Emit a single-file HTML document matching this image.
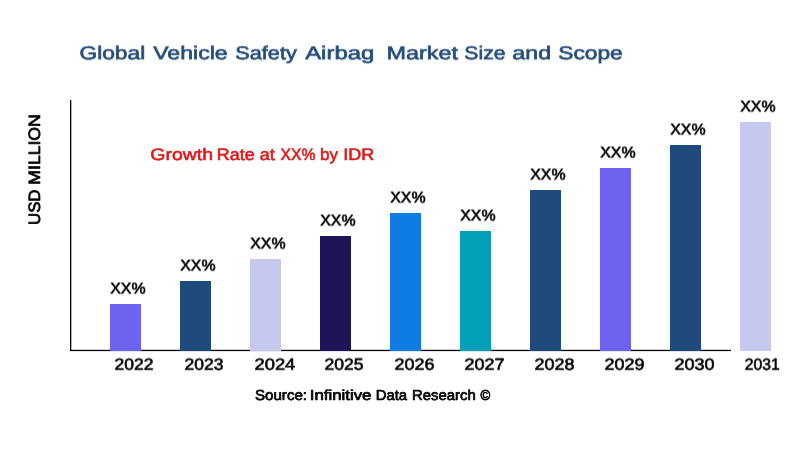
<!DOCTYPE html>
<html lang="en"><head><meta charset="utf-8"><title>Global Vehicle Safety Airbag Market Size and Scope</title>
<style>
html,body{margin:0;padding:0;background:#fff;}
body{width:800px;height:450px;overflow:hidden;font-family:"Liberation Sans", sans-serif;}
svg{display:block;font-family:"Liberation Sans", sans-serif;text-rendering:geometricPrecision;}
</style></head><body>
<svg width="800" height="450" viewBox="0 0 800 450">
<rect width="800" height="450" fill="#ffffff"/>
<rect x="70" y="100" width="1.3" height="251" fill="#000"/>
<rect x="70" y="349.8" width="661" height="1.3" fill="#000"/>
<rect x="110" y="304" width="31" height="47" fill="#6c63f0"/>
<rect x="180" y="281" width="31" height="70" fill="#1f4b7c"/>
<rect x="250" y="259" width="31" height="92" fill="#c7c8ee"/>
<rect x="320" y="236" width="31" height="115" fill="#1e1559"/>
<rect x="390" y="213" width="31" height="138" fill="#0f7be5"/>
<rect x="460" y="231" width="31" height="120" fill="#04a0b8"/>
<rect x="530" y="190" width="31" height="161" fill="#1f4b7c"/>
<rect x="600" y="168" width="31" height="183" fill="#6c63f0"/>
<rect x="670" y="145" width="31" height="206" fill="#1f4b7c"/>
<rect x="740" y="122" width="31" height="229" fill="#c7c8ee"/>
<defs><filter id="d25" x="0" y="0" width="800" height="450" filterUnits="userSpaceOnUse"><feOffset in="SourceGraphic" dx="0" dy="1" result="o"/><feComposite in="SourceGraphic" in2="o" operator="arithmetic" k1="0" k2="0.75" k3="0.25" k4="0"/></filter><filter id="d50" x="0" y="0" width="800" height="450" filterUnits="userSpaceOnUse"><feOffset in="SourceGraphic" dx="0" dy="1" result="o"/><feComposite in="SourceGraphic" in2="o" operator="arithmetic" k1="0" k2="0.5" k3="0.5" k4="0"/></filter><filter id="d75" x="0" y="0" width="800" height="450" filterUnits="userSpaceOnUse"><feOffset in="SourceGraphic" dx="0" dy="1" result="o"/><feComposite in="SourceGraphic" in2="o" operator="arithmetic" k1="0" k2="0.25" k3="0.75" k4="0"/></filter></defs>
<g filter="url(#d25)"><text y="59" font-size="18.6" fill="#264d7a" stroke="#264d7a" stroke-width="0.65" stroke-linejoin="round"><tspan x="79.50" textLength="65.70" lengthAdjust="spacingAndGlyphs">Global</tspan> <tspan x="153.17" textLength="74.55" lengthAdjust="spacingAndGlyphs">Vehicle</tspan> <tspan x="235.30" textLength="61.48" lengthAdjust="spacingAndGlyphs">Safety</tspan> <tspan x="305.16" textLength="69.12" lengthAdjust="spacingAndGlyphs">Airbag</tspan> <tspan x="386.44" textLength="71.49" lengthAdjust="spacingAndGlyphs">Market</tspan> <tspan x="464.33" textLength="41.26" lengthAdjust="spacingAndGlyphs">Size</tspan> <tspan x="512.39" textLength="38.73" lengthAdjust="spacingAndGlyphs">and</tspan> <tspan x="558.26" textLength="64.47" lengthAdjust="spacingAndGlyphs">Scope</tspan></text></g>
<g filter="url(#d50)"><text y="293" font-size="15.6" fill="#000" stroke="#000" stroke-width="0.6" stroke-linejoin="round"><tspan x="110.22" textLength="35.34" lengthAdjust="spacingAndGlyphs">XX%</tspan></text>
<text y="270" font-size="15.6" fill="#000" stroke="#000" stroke-width="0.6" stroke-linejoin="round"><tspan x="180.22" textLength="35.34" lengthAdjust="spacingAndGlyphs">XX%</tspan></text>
<text y="248" font-size="15.6" fill="#000" stroke="#000" stroke-width="0.6" stroke-linejoin="round"><tspan x="250.22" textLength="35.34" lengthAdjust="spacingAndGlyphs">XX%</tspan></text>
<text y="225" font-size="15.6" fill="#000" stroke="#000" stroke-width="0.6" stroke-linejoin="round"><tspan x="320.22" textLength="35.34" lengthAdjust="spacingAndGlyphs">XX%</tspan></text>
<text y="202" font-size="15.6" fill="#000" stroke="#000" stroke-width="0.6" stroke-linejoin="round"><tspan x="390.22" textLength="35.34" lengthAdjust="spacingAndGlyphs">XX%</tspan></text>
<text y="220" font-size="15.6" fill="#000" stroke="#000" stroke-width="0.6" stroke-linejoin="round"><tspan x="460.22" textLength="35.34" lengthAdjust="spacingAndGlyphs">XX%</tspan></text>
<text y="179" font-size="15.6" fill="#000" stroke="#000" stroke-width="0.6" stroke-linejoin="round"><tspan x="530.22" textLength="35.34" lengthAdjust="spacingAndGlyphs">XX%</tspan></text>
<text y="157" font-size="15.6" fill="#000" stroke="#000" stroke-width="0.6" stroke-linejoin="round"><tspan x="600.22" textLength="35.34" lengthAdjust="spacingAndGlyphs">XX%</tspan></text>
<text y="134" font-size="15.6" fill="#000" stroke="#000" stroke-width="0.6" stroke-linejoin="round"><tspan x="670.22" textLength="35.34" lengthAdjust="spacingAndGlyphs">XX%</tspan></text>
<text y="111" font-size="15.6" fill="#000" stroke="#000" stroke-width="0.6" stroke-linejoin="round"><tspan x="740.22" textLength="35.34" lengthAdjust="spacingAndGlyphs">XX%</tspan></text></g>
<g filter="url(#d75)"><text y="369" font-size="16.2" fill="#000" stroke="#000" stroke-width="0.6" stroke-linejoin="round"><tspan x="114.55" textLength="38.98" lengthAdjust="spacingAndGlyphs">2022</tspan></text>
<text y="369" font-size="16.2" fill="#000" stroke="#000" stroke-width="0.6" stroke-linejoin="round"><tspan x="184.56" textLength="38.87" lengthAdjust="spacingAndGlyphs">2023</tspan></text>
<text y="369" font-size="16.2" fill="#000" stroke="#000" stroke-width="0.6" stroke-linejoin="round"><tspan x="254.51" textLength="40.77" lengthAdjust="spacingAndGlyphs">2024</tspan></text>
<text y="369" font-size="16.2" fill="#000" stroke="#000" stroke-width="0.6" stroke-linejoin="round"><tspan x="324.55" textLength="39.04" lengthAdjust="spacingAndGlyphs">2025</tspan></text>
<text y="369" font-size="16.2" fill="#000" stroke="#000" stroke-width="0.6" stroke-linejoin="round"><tspan x="394.53" textLength="39.92" lengthAdjust="spacingAndGlyphs">2026</tspan></text>
<text y="369" font-size="16.2" fill="#000" stroke="#000" stroke-width="0.6" stroke-linejoin="round"><tspan x="464.53" textLength="39.92" lengthAdjust="spacingAndGlyphs">2027</tspan></text>
<text y="369" font-size="16.2" fill="#000" stroke="#000" stroke-width="0.6" stroke-linejoin="round"><tspan x="534.53" textLength="39.92" lengthAdjust="spacingAndGlyphs">2028</tspan></text>
<text y="369" font-size="16.2" fill="#000" stroke="#000" stroke-width="0.6" stroke-linejoin="round"><tspan x="604.53" textLength="39.92" lengthAdjust="spacingAndGlyphs">2029</tspan></text>
<text y="369" font-size="16.2" fill="#000" stroke="#000" stroke-width="0.6" stroke-linejoin="round"><tspan x="674.53" textLength="40.09" lengthAdjust="spacingAndGlyphs">2030</tspan></text>
<text y="369" font-size="16.2" fill="#000" stroke="#000" stroke-width="0.6" stroke-linejoin="round"><tspan x="744.65" textLength="34.99" lengthAdjust="spacingAndGlyphs">2031</tspan></text></g>
<text y="160" font-size="16.6" fill="#e21515" stroke="#e21515" stroke-width="0.55" stroke-linejoin="round"><tspan x="150.25" textLength="62.78" lengthAdjust="spacingAndGlyphs">Growth</tspan> <tspan x="216.79" textLength="37.81" lengthAdjust="spacingAndGlyphs">Rate</tspan> <tspan x="259.76" textLength="15.07" lengthAdjust="spacingAndGlyphs">at</tspan> <tspan x="280.52" textLength="34.81" lengthAdjust="spacingAndGlyphs">XX%</tspan> <tspan x="320.12" textLength="18.04" lengthAdjust="spacingAndGlyphs">by</tspan> <tspan x="343.35" textLength="30.97" lengthAdjust="spacingAndGlyphs">IDR</tspan></text>
<text y="400" font-size="14.5" fill="#000" stroke="#000" stroke-width="0.7" stroke-linejoin="round"><tspan x="254.97" textLength="52.10" lengthAdjust="spacingAndGlyphs">Source:</tspan> <tspan x="309.76" textLength="61.71" lengthAdjust="spacingAndGlyphs">Infinitive</tspan> <tspan x="375.67" textLength="31.40" lengthAdjust="spacingAndGlyphs">Data</tspan> <tspan x="412.07" textLength="63.64" lengthAdjust="spacingAndGlyphs">Research</tspan> <tspan x="480.52" textLength="9.70" lengthAdjust="spacingAndGlyphs">©</tspan></text>
<g transform="translate(40,224.1) rotate(-90)"><text y="0" font-size="16.4" fill="#000" stroke="#000" stroke-width="0.7" stroke-linejoin="round"><tspan x="-0.93" textLength="35.54" lengthAdjust="spacingAndGlyphs">USD</tspan> <tspan x="39.48" textLength="70.31" lengthAdjust="spacingAndGlyphs">MILLION</tspan></text></g>
</svg>
</body></html>
